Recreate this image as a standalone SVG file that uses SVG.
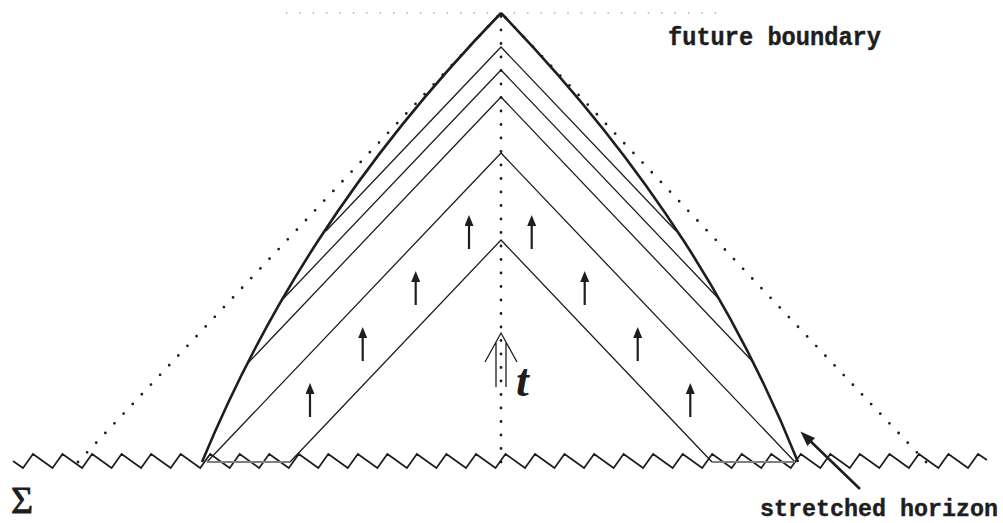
<svg xmlns="http://www.w3.org/2000/svg" width="1003" height="523" viewBox="0 0 1003 523">
<style>
.thin{fill:none;stroke:#1e1e1e;stroke-width:1.3;stroke-linejoin:miter}
.thick{fill:none;stroke:#1e1e1e;stroke-width:2.6}
.dots{fill:none;stroke:#1e1e1e;stroke-width:2.8;stroke-linecap:round;stroke-dasharray:0 13.3}
.vdots{fill:none;stroke:#1e1e1e;stroke-width:2.8;stroke-linecap:round;stroke-dasharray:0 13.5}
.hdots{fill:none;stroke:#9a9a9a;stroke-width:1.6;stroke-linecap:round;stroke-dasharray:0 13.4}
.zig{fill:none;stroke:#1e1e1e;stroke-width:1.7;stroke-linejoin:miter}
.base{fill:none;stroke:#808080;stroke-width:2}
.arr{fill:none;stroke:#1e1e1e;stroke-width:2.2}
.mono{font-family:"Liberation Mono","DejaVu Sans Mono",monospace;font-weight:bold;font-size:25px;fill:#1e1e1e;stroke:#1e1e1e;stroke-width:0.4}
</style>
<defs>
<marker id="ah" viewBox="0 0 11 9" refX="7" refY="4.5" markerWidth="11" markerHeight="9" markerUnits="userSpaceOnUse" orient="auto">
<path d="M0,0 L11,4.5 L0,9 z" fill="#1e1e1e"/>
</marker>
<marker id="ahb" viewBox="0 0 15 11" refX="10" refY="5.5" markerWidth="15" markerHeight="11" markerUnits="userSpaceOnUse" orient="auto">
<path d="M0,0 L15,5.5 L0,11 z" fill="#1e1e1e"/>
</marker>
</defs>
<rect width="1003" height="523" fill="#ffffff"/>

<g id="surface">
<path class="zig" d="M13 461 L23 468 L33 454 L52.5 468 L62.5 454 L82.1 468 L92.1 454 L111.6 468 L121.6 454 L141.1 468 L151.1 454 L170.7 468 L180.7 454 L200.2 468 L210.2 454 L229.7 468 L239.7 454 L259.2 468 L269.2 454 L288.8 468 L298.8 454 L318.3 468 L328.3 454 L347.8 468 L357.8 454 L377.4 468 L387.4 454 L406.9 468 L416.9 454 L436.4 468 L446.4 454 L466 468 L476 454 L495.5 468 L505.5 454 L525 468 L535 454 L554.5 468 L564.5 454 L584.1 468 L594.1 454 L613.6 468 L623.6 454 L643.1 468 L653.1 454 L672.7 468 L682.7 454 L702.2 468 L712.2 454 L731.7 468 L741.7 454 L761.3 468 L771.3 454 L790.8 468 L800.8 454 L820.3 468 L830.3 454 L849.8 468 L859.8 454 L879.4 468 L889.4 454 L908.9 468 L918.9 454 L938.4 468 L948.4 454 L968 468 L978 454 L987 460"/>
</g>

<g id="lightcone">
<path class="hdots" d="M501 13 L286 13 M501 13 L716 13"/>
<path class="dots" d="M78 462 L501 13"/>
<path class="dots" d="M926 462 L501 13"/>
<path class="vdots" d="M501 462 L501 14"/>
</g>

<g id="slices">
<path class="thin" d="M326 231 L501 47 L676 231"/>
<path class="thin" d="M283 299 L501 70 L719 299"/>
<path class="thin" d="M248 363 L501 97 L754 363"/>
<path class="thin" d="M207 462 L501 153 L795 462"/>
<path class="thin" d="M290 462 L501 240 L712 462"/>
<path class="base" d="M207 462 L290 462 M712 462 L795 462"/>
</g>

<g id="horizon">
<path class="thick" d="M202 462 C262 317 351 168 501 13"/>
<path class="thick" d="M798 462 C740 317 651 168 501 13"/>
</g>

<g id="connectors">
<path class="arr" marker-end="url(#ah)" d="M310 417 L310 387"/>
<path class="arr" marker-end="url(#ah)" d="M362.7 361 L362.7 331"/>
<path class="arr" marker-end="url(#ah)" d="M415.7 305 L415.7 275"/>
<path class="arr" marker-end="url(#ah)" d="M469 249 L469 219"/>
<path class="arr" marker-end="url(#ah)" d="M531.7 249 L531.7 219"/>
<path class="arr" marker-end="url(#ah)" d="M584.7 305 L584.7 275"/>
<path class="arr" marker-end="url(#ah)" d="M637.7 361 L637.7 331"/>
<path class="arr" marker-end="url(#ah)" d="M690.3 417 L690.3 387"/>
<path class="thin" d="M485 362 L501 333 L517 362 M496 342 L496 387 M506 342 L506 387"/>
<path fill="none" stroke="#1e1e1e" stroke-width="2.6" marker-end="url(#ahb)" d="M860 489 L804 435"/>
</g>

<g id="labels">
<text class="mono" x="668" y="45" textLength="213" lengthAdjust="spacingAndGlyphs">future boundary</text>
<text class="mono" x="760" y="516" font-size="23" textLength="238" lengthAdjust="spacingAndGlyphs" style="font-size:23px">stretched horizon</text>
<text x="11" y="513" font-family="Liberation Serif, serif" font-size="38" fill="#1e1e1e" stroke="#1e1e1e" stroke-width="0.8">Σ</text>
<text x="516" y="396" font-family="Liberation Serif, serif" font-style="italic" font-weight="bold" font-size="46" fill="#1e1e1e">t</text>
</g>
</svg>
